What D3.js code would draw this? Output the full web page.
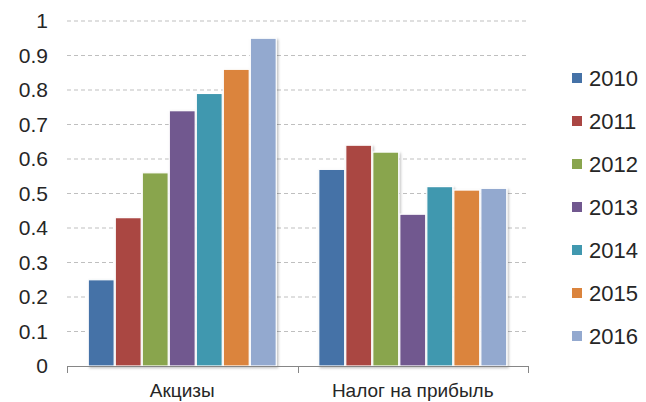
<!DOCTYPE html>
<html>
<head>
<meta charset="utf-8">
<script src="https://cdn.jsdelivr.net/npm/d3@7"></script>
<style>
  body { margin: 0; background: #fff; }
  text { font-family: "Liberation Sans", Arial, sans-serif; fill: #262626; }
</style>
</head>
<body>
<svg id="chart" width="646" height="402"></svg>
<script>
// data
var categories = ["Акцизы", "Налог на прибыль"];
var years = ["2010", "2011", "2012", "2013", "2014", "2015", "2016"];
var akcizy = [0.25, 0.43, 0.56, 0.74, 0.79, 0.86, 0.95];
var nalog = [0.57, 0.64, 0.62, 0.44, 0.52, 0.51, 0.515];
var yTicks = [0, 0.1, 0.2, 0.3, 0.4, 0.5, 0.6, 0.7, 0.8, 0.9, 1];
var colors = ["#4572A7", "#AA4643", "#89A54E", "#71588F", "#4198AF", "#DB843D", "#93A9CF"];

var series = [akcizy, nalog];

var svg = d3.select("#chart");
var margin = {left: 67, right: 118, top: 21, bottom: 36};
var width = 646 - margin.left - margin.right,
    height = 402 - margin.top - margin.bottom;

var defs = svg.append("defs");
var f = defs.append("filter").attr("id", "shadow")
    .attr("x", "-20%").attr("y", "-20%").attr("width", "150%").attr("height", "150%");
f.append("feDropShadow").attr("dx", 1.5).attr("dy", 1.5).attr("stdDeviation", 1.2)
    .attr("flood-color", "#000").attr("flood-opacity", 0.25);

var g = svg.append("g").attr("transform", "translate(" + margin.left + "," + margin.top + ")");

// scales
var y = d3.scaleLinear().domain([0, 1]).range([height, 0]);
var x0 = d3.scaleBand().domain(categories).range([0, width]).paddingInner(0.175).paddingOuter(0.0875);
var x1 = d3.scaleBand().domain(years).range([0, x0.bandwidth()]).padding(0.04);

// gridlines
g.append("g").selectAll("line")
    .data(yTicks.filter(function(d) { return d > 0; }))
    .enter().append("line")
    .attr("x1", 0).attr("x2", width)
    .attr("y1", function(d) { return y(d); })
    .attr("y2", function(d) { return y(d); })
    .attr("stroke", "#bfbfbf").attr("stroke-dasharray", "4,3");

// y tick labels
g.append("g").selectAll("text")
    .data(yTicks)
    .enter().append("text")
    .attr("x", -19)
    .attr("y", function(d) { return y(d); })
    .attr("dy", "0.35em")
    .attr("text-anchor", "end")
    .style("font-size", "21px")
    .text(function(d) { return d3.format("")(d); });

// bars
var groups = g.append("g").selectAll("g")
    .data(categories)
    .enter().append("g")
    .attr("transform", function(d) { return "translate(" + x0(d) + ",0)"; });

groups.selectAll("rect")
    .data(function(d, i) { return series[i].map(function(v, j) { return {year: years[j], value: v, c: colors[j]}; }); })
    .enter().append("rect")
    .attr("x", function(d) { return x1(d.year); })
    .attr("y", function(d) { return y(d.value); })
    .attr("width", x1.bandwidth())
    .attr("height", function(d) { return height - y(d.value); })
    .attr("fill", function(d) { return d.c; })
    .attr("stroke", "#fff").attr("stroke-width", 1.2)
    .attr("filter", "url(#shadow)");

// x axis
var step = width / categories.length;
g.append("line")
    .attr("x1", 0).attr("x2", width).attr("y1", height + 0.5).attr("y2", height + 0.5)
    .attr("stroke", "#868686");
g.append("g").selectAll("line")
    .data(d3.range(categories.length + 1))
    .enter().append("line")
    .attr("x1", function(d) { return Math.round(d * step) + 0.5; })
    .attr("x2", function(d) { return Math.round(d * step) + 0.5; })
    .attr("y1", height).attr("y2", height + 7)
    .attr("stroke", "#868686");

g.append("g").selectAll("text")
    .data(categories)
    .enter().append("text")
    .attr("x", function(d) { return x0(d) + x0.bandwidth() / 2; })
    .attr("y", height + 31)
    .attr("text-anchor", "middle")
    .style("font-size", "19px")
    .text(function(d) { return d; });

// legend
var legend = svg.append("g").selectAll("g")
    .data(years)
    .enter().append("g")
    .attr("transform", function(d, i) { return "translate(572," + (78 + i * 43) + ")"; });
legend.append("rect")
    .attr("x", 0).attr("y", -5).attr("width", 10).attr("height", 10)
    .attr("fill", function(d, i) { return colors[i]; });
legend.append("text")
    .attr("x", 17).attr("dy", "0.36em")
    .style("font-size", "22px")
    .text(function(d) { return d; });
</script>
</body>
</html>
